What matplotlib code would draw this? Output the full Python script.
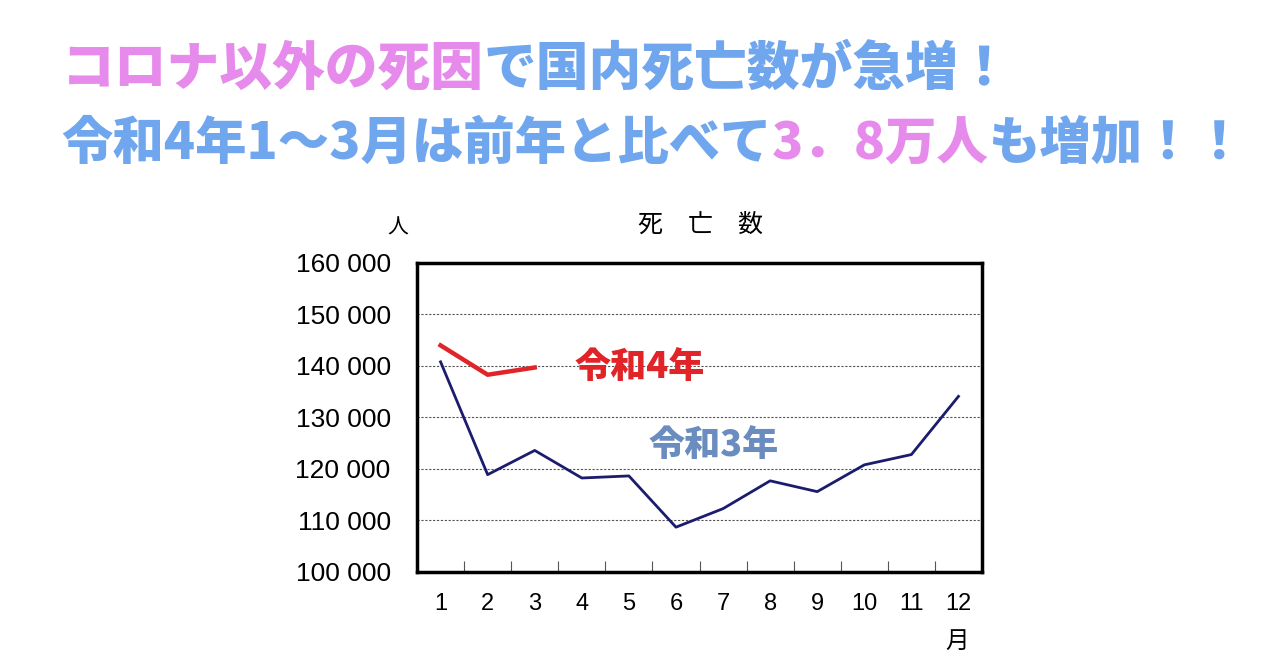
import matplotlib
matplotlib.use("Agg")
import matplotlib.pyplot as plt
from matplotlib.ticker import FixedLocator, FuncFormatter

plt.rcParams['font.family'] = ['Noto Sans CJK JP', 'DejaVu Sans']

months = list(range(1, 13))
month_labels = [str(m) for m in months]
deaths_r3 = [140800, 118900, 123600, 118250, 118650, 108700,
             112300, 117700, 115600, 120800, 122800, 134100]
months_r4 = [1, 2, 3]
deaths_r4 = [144000, 138300, 139700]
yticks = [100000, 110000, 120000, 130000, 140000, 150000, 160000]

title1 = [("コロナ以外の死因", "#E68BEC"), ("で国内死亡数が急増！", "#6FA6EE")]
title2 = [("令和4年1～3月は前年と比べて", "#6FA6EE"), ("3．8万人", "#E68BEC"),
          ("も増加！！", "#6FA6EE")]

fig = plt.figure(figsize=(12.8, 6.7), dpi=100)
ax = fig.add_axes([0.3258, 0.1463, 0.4414, 0.4612])

ax.plot(months, deaths_r3, color="#1C1C6E", lw=2.0)
ax.plot(months_r4, deaths_r4, color="#E02428", lw=3.2)

ax.set_xlim(0.5, 12.5)
ax.set_ylim(100000, 160000)
ax.yaxis.set_major_locator(FixedLocator(yticks))
ax.yaxis.set_major_formatter(FuncFormatter(lambda v, p: f"{int(v):,}".replace(",", " ")))
ax.set_xticks(months)
ax.set_xticklabels(month_labels)
ax.set_xticks([m + 0.5 for m in months[:-1]], minor=True)
ax.tick_params(axis='x', which='major', length=0, pad=15, labelsize=17)
ax.tick_params(axis='x', which='minor', direction='in', length=8, width=0.8, color='#555555')
ax.tick_params(axis='y', which='major', length=0, pad=19, labelsize=19)
for lab in ax.get_yticklabels() + ax.get_xticklabels():
    lab.set_family(['Liberation Sans', 'DejaVu Sans'])

ax.grid(axis='y', linestyle=(0, (2, 1.5)), color='#555555', lw=0.8)
for s in ax.spines.values():
    s.set_linewidth(2.5)
    s.set_color('black')

# chart texts
fig.text(0.547, 0.664, "死　亡　数", ha='center', va='center', fontsize=18)
fig.text(0.311, 0.660, "人", ha='center', va='center', fontsize=15)
fig.text(0.748, 0.042, "月", ha='center', va='center', fontsize=17)

ax.text(0.278, 0.663, "令和4年", transform=ax.transAxes, ha='left', va='center',
        fontsize=26, fontweight='black', color="#E02428")
ax.text(0.41, 0.411, "令和3年", transform=ax.transAxes, ha='left', va='center',
        fontsize=26, fontweight='black', color="#6A8CBE")

# titles (multi-colour, chained)
def chained(parts, x, y, size):
    prev = None
    for txt, col in parts:
        if prev is None:
            prev = fig.text(x, y, txt, color=col, fontsize=size, fontweight='heavy',
                            ha='left', va='center')
        else:
            prev = ax.annotate(txt, xy=(1, 0.5), xycoords=prev, xytext=(0, 0),
                               textcoords='offset points', ha='left', va='center',
                               color=col, fontsize=size, fontweight='heavy',
                               annotation_clip=False)

chained(title1, 0.048, 0.897, 38)
chained(title2, 0.048, 0.785, 37)

fig.savefig("out.png", dpi=100, facecolor='white')
